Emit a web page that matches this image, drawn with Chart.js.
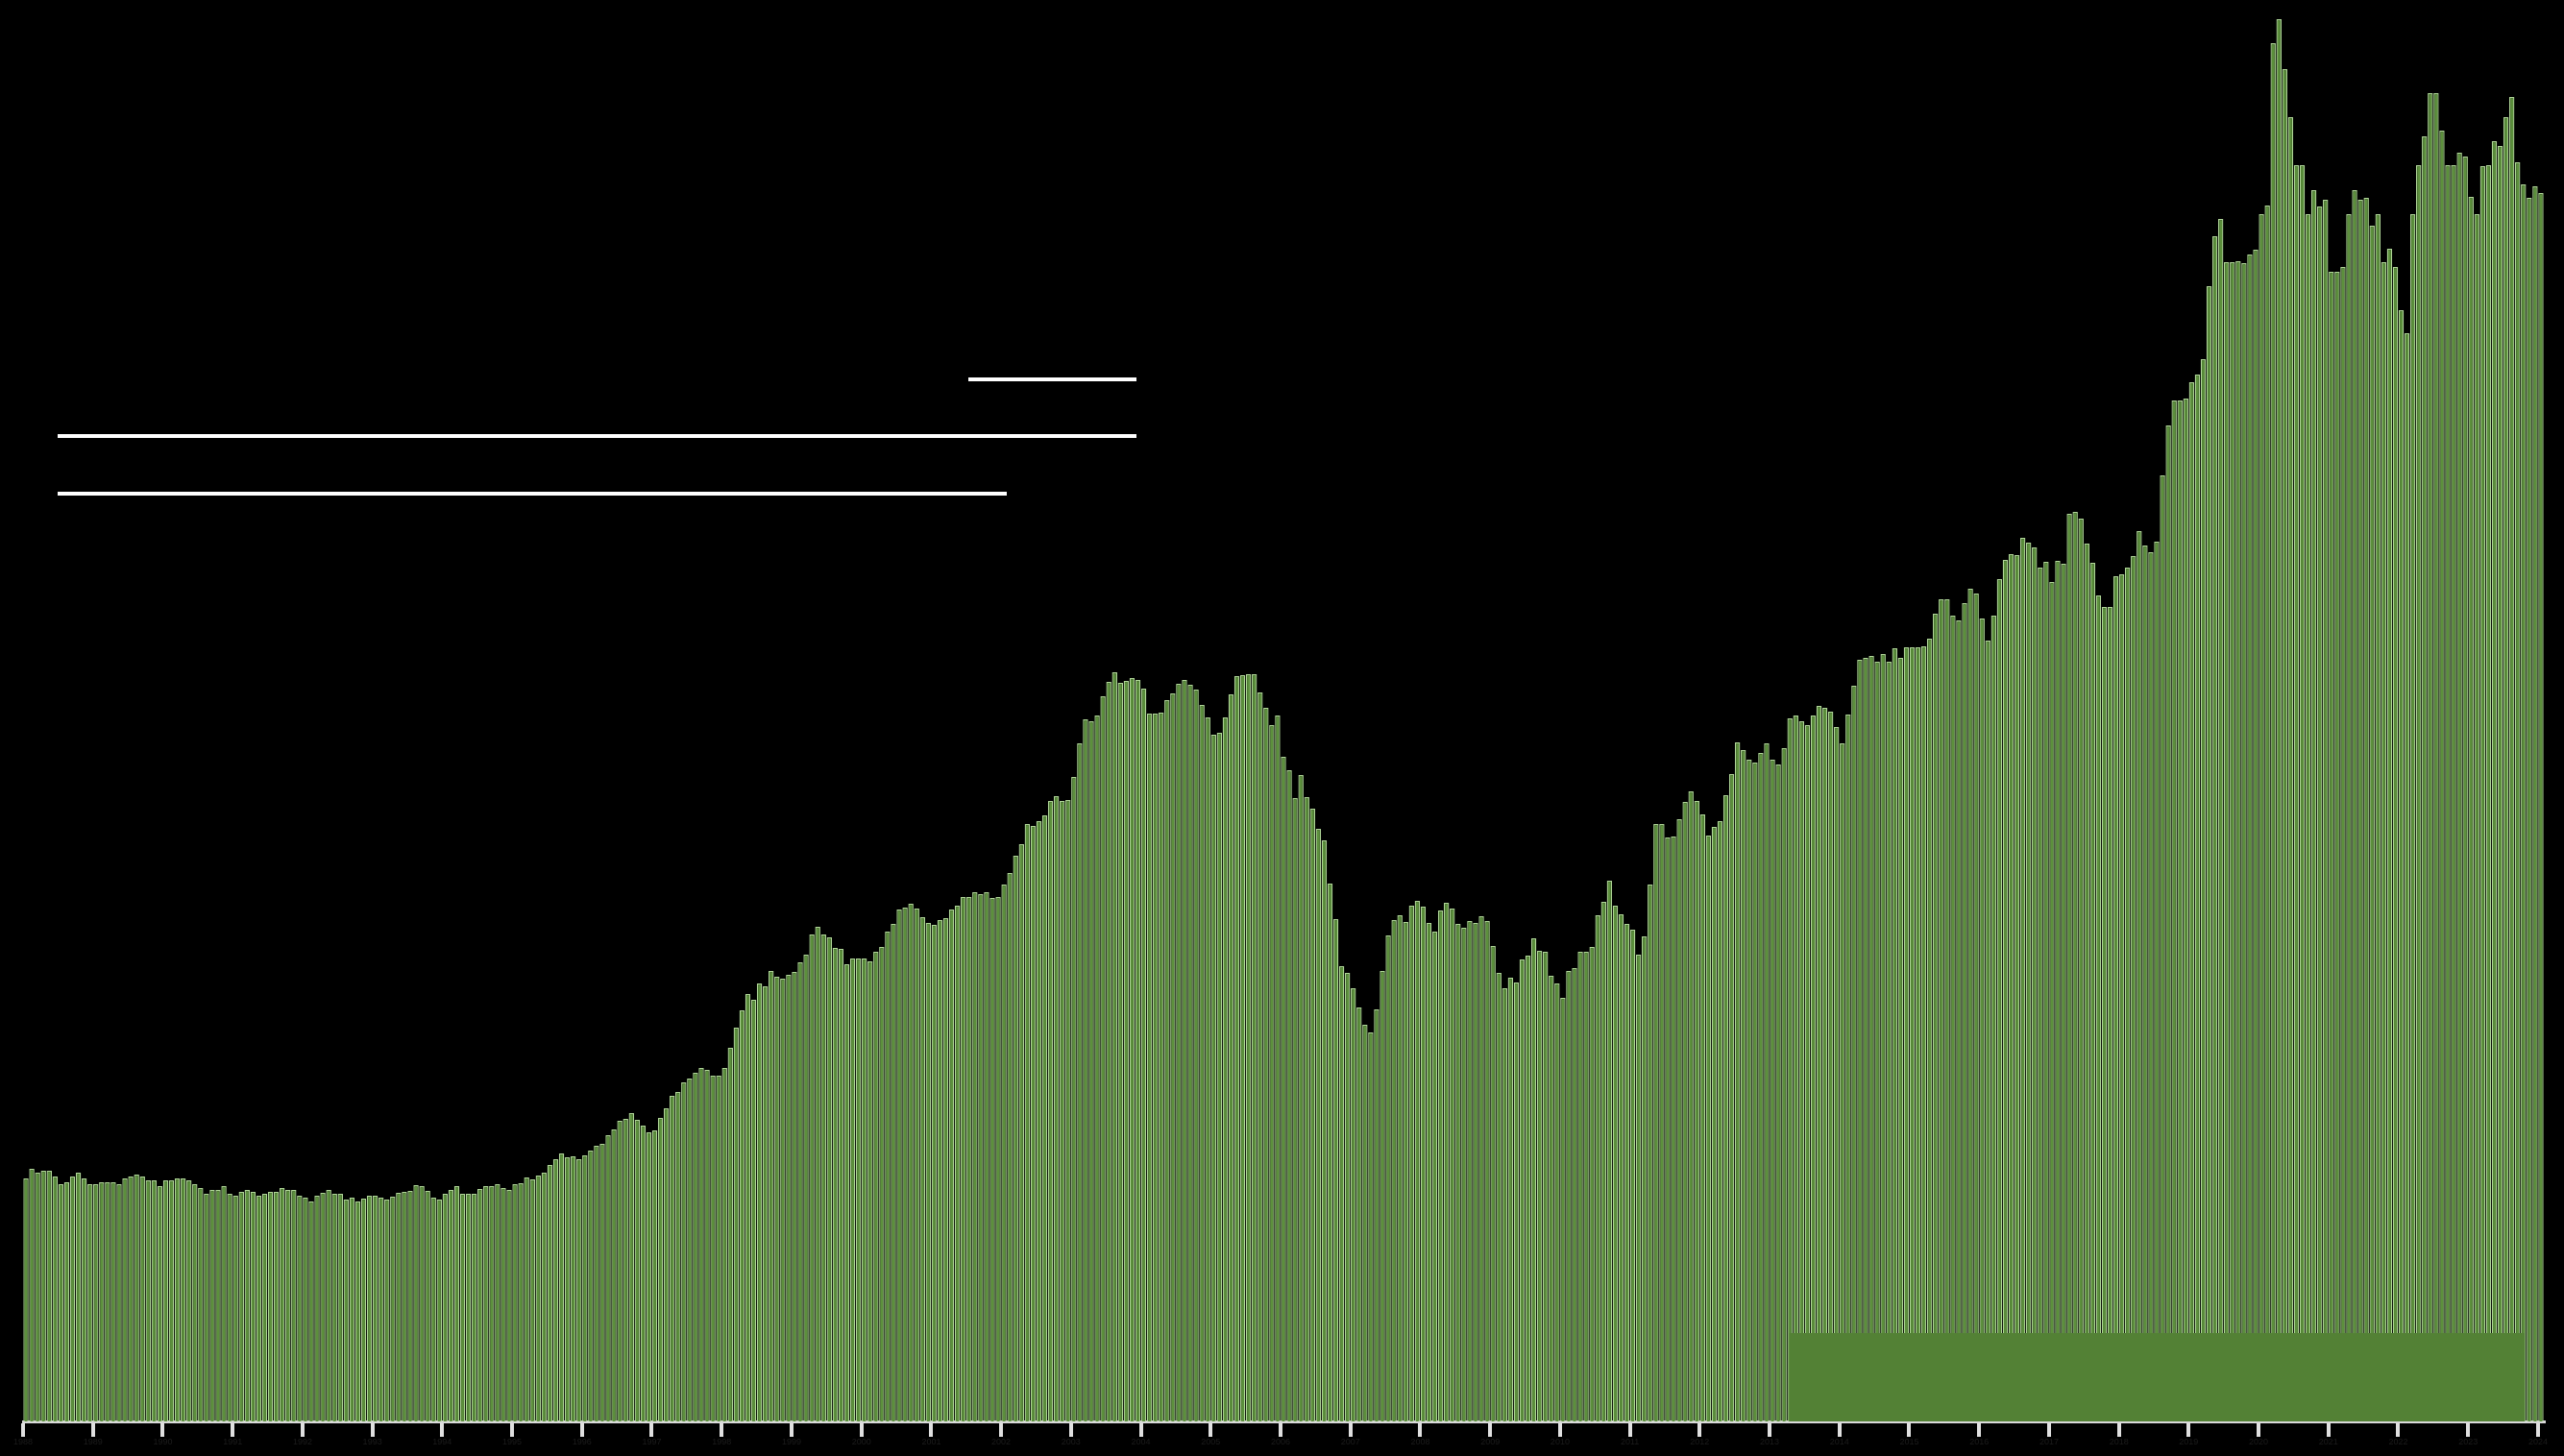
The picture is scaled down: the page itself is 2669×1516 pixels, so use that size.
<!DOCTYPE html>
<html>
<head>
<meta charset="utf-8">
<script src="https://cdn.jsdelivr.net/npm/chart.js@4/dist/chart.umd.min.js"></script>
<style>
html,body{margin:0;padding:0;background:#000;overflow:hidden}
canvas{display:block}
</style>
</head>
<body>
<canvas id="c" width="2669" height="1516"></canvas>
<script>
// ---- data ----
const years = ['1988','1989','1990','1991','1992','1993','1994','1995','1996','1997','1998','1999','2000','2001','2002','2003','2004','2005','2006','2007','2008','2009','2010','2011','2012','2013','2014','2015','2016','2017','2018','2019','2020','2021','2022','2023','2024'];
const months = ['01','02','03','04','05','06','07','08','09','10','11','12'];
const values = [
253,263,259,261,261,255,247,249,255,259,253,247,
247,249,249,249,247,253,255,257,255,251,251,245,
251,251,253,253,251,247,243,237,241,241,245,237,
235,239,241,239,235,237,239,239,243,241,241,235,
233,229,235,238,241,237,237,231,233,229,232,235,
235,233,231,234,238,239,240,246,245,240,233,231,
237,241,245,237,237,237,242,245,245,247,243,241,
247,248,254,252,256,259,267,273,279,275,276,273,
277,282,287,289,298,304,313,315,321,314,308,301,
303,316,326,339,343,353,357,363,368,366,360,360,
368,389,410,428,445,439,456,453,469,463,461,465,
468,478,486,507,515,507,504,493,492,476,482,482,
482,479,489,494,510,518,533,535,539,534,525,519,
517,522,524,533,537,546,546,551,549,551,545,546,
559,571,589,601,622,620,625,631,646,651,646,647,
671,706,731,729,735,755,770,780,769,771,774,772,
763,737,737,738,751,758,768,772,767,762,746,733,
715,717,733,757,776,777,778,778,759,743,725,735,
692,678,649,673,650,638,617,605,560,523,474,467,
451,431,413,405,429,469,506,522,527,520,537,542,
536,519,510,532,540,534,518,514,521,519,526,521,
495,467,451,462,457,481,485,503,490,489,464,456,
441,469,472,489,489,494,527,541,563,537,528,518,
512,486,505,559,622,622,608,609,627,645,656,646,
632,610,619,625,652,674,707,699,689,686,696,706,
689,684,701,732,735,729,725,735,745,743,739,723,
706,736,766,793,795,797,791,799,791,805,795,806,
806,806,807,815,841,856,856,839,834,852,867,862,
836,813,839,877,897,903,902,920,915,910,889,895,
874,896,893,945,947,940,914,894,860,848,848,880,
882,889,901,927,912,905,916,985,1037,1063,1063,1065,
1082,1090,1106,1182,1234,1252,1207,1207,1208,1206,1215,1220,
1257,1266,1435,1460,1408,1358,1308,1308,1257,1282,1265,1272,
1197,1197,1202,1257,1282,1272,1274,1245,1257,1207,1221,1202,
1157,1133,1257,1308,1338,1383,1383,1344,1308,1308,1321,1317,
1275,1257,1307,1308,1333,1328,1358,1379,1311,1288,1274,1286,
1279
];
const categories = [];
for (let i = 0; i < values.length; i++) {
  categories.push(years[Math.floor(i / 12)] + '-' + months[i % 12]);
}

// ---- decorations (chart-relative) ----
const whiteLines = [
  {x1: 1008, x2: 1183, y: 395},
  {x1: 60,   x2: 1183, y: 454},
  {x1: 60,   x2: 1048, y: 514}
];
const boxFrac = {left: 0.7008, right: 0.9923, height: 92};

const decoPlugin = {
  id: 'deco',
  afterDatasetsDraw(chart) {
    const ctx = chart.ctx, a = chart.chartArea;
    const w = a.right - a.left;
    const yS = chart.scales.y;
    const top = yS.getPixelForValue(boxFrac.height);
    ctx.save();
    ctx.fillStyle = '#538135';
    ctx.fillRect(a.left + w * boxFrac.left, top, w * (boxFrac.right - boxFrac.left), a.bottom - top);
    ctx.restore();
  },
  afterDraw(chart) {
    const ctx = chart.ctx;
    ctx.save();
    ctx.strokeStyle = '#ffffff';
    ctx.lineWidth = 4;
    whiteLines.forEach(l => {
      ctx.beginPath();
      ctx.moveTo(l.x1, l.y);
      ctx.lineTo(l.x2, l.y);
      ctx.stroke();
    });
    ctx.restore();
  }
};

new Chart(document.getElementById('c'), {
  type: 'bar',
  data: {
    labels: categories,
    datasets: [{
      data: values,
      backgroundColor: '#5c903c',
      borderColor: '#b0d798',
      borderWidth: 1.3,
      barPercentage: 0.9,
      categoryPercentage: 1.0
    }]
  },
  options: {
    responsive: false,
    animation: false,
    events: [],
    layout: {padding: {left: 24, right: 21, top: 0, bottom: 0}},
    plugins: {legend: {display: false}, tooltip: {enabled: false}, title: {display: false}},
    scales: {
      x: {
        offset: true,
        afterFit: s => { s.height = 36; },
        grid: {
          offset: true,
          drawOnChartArea: false,
          drawTicks: true,
          tickLength: 16,
          lineWidth: 4,
          color: ctx => (ctx.index % 12 === 0 ? '#e0e0e0' : 'rgba(0,0,0,0)')
        },
        border: {display: true, color: '#d9d9d9', width: 3},
        ticks: {
          autoSkip: false,
          maxRotation: 0,
          minRotation: 0,
          padding: 0,
          labelOffset: -3,
          color: '#1c1c1c',
          font: {family: 'Liberation Sans', size: 9},
          callback: (v, i) => (i % 12 === 0 ? years[i / 12] : '')
        }
      },
      y: {
        display: false,
        min: 0,
        max: 1480
      }
    }
  },
  plugins: [decoPlugin]
});
</script>
</body>
</html>
